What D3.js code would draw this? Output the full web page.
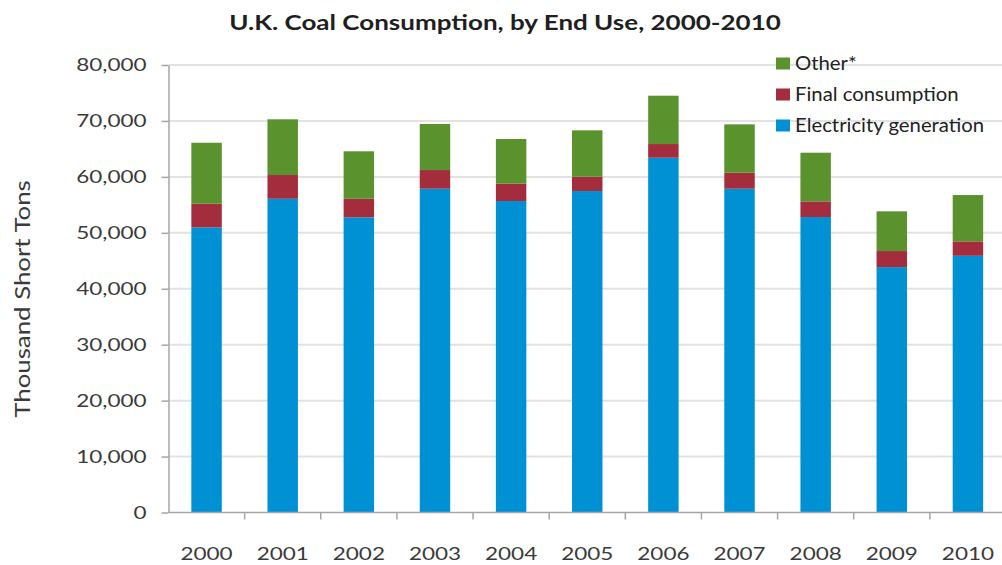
<!DOCTYPE html>
<html><head><meta charset="utf-8">
<script src="https://cdn.jsdelivr.net/npm/d3@7/dist/d3.min.js"></script>
<style>body{margin:0;background:#fff}svg{display:block}text{font-family:Lato,"Open Sans",sans-serif}</style>
</head><body><svg id="c" width="1002" height="565"></svg>
<script>
const years = ["2000","2001","2002","2003","2004","2005","2006","2007","2008","2009","2010"];
const electricity = [50970,56090,52760,57880,55680,57470,63420,57880,52820,43870,45890];
const finalCons = [4230,4240,3330,3340,3100,2560,2450,2860,2800,2870,2580];
const other = [10900,9960,8480,8230,7990,8290,8640,8650,8700,7100,8280];
const seriesNames = ["Electricity generation","Final consumption","Other*"];
const seriesColors = ["#0091d5","#a32d3d","#5a922e"];
const yTicks = [0,10000,20000,30000,40000,50000,60000,70000,80000];
const title = "U.K. Coal Consumption, by End Use, 2000-2010";
const yTitle = "Thousand Short Tons";

const SX = 1.25; // horizontal text stretch
const svg = d3.select("#c");
const x0 = 168.5, x1 = 1006, yBase = 512.5, yTop = 65;
const x = d3.scaleBand().domain(years).range([x0, x1]).paddingInner(0.6).paddingOuter(0.3);
const y = d3.scaleLinear().domain([0, 80000]).range([yBase, yTop]);

const rows = years.map((yr, i) => ({year: yr, e: electricity[i], f: finalCons[i], o: other[i]}));
const stack = d3.stack().keys(["e","f","o"])(rows);

// gridlines
svg.append("g").selectAll("line").data(yTicks.slice(1)).join("line")
  .attr("x1", x0).attr("x2", 1002).attr("y1", d => y(d)).attr("y2", d => y(d))
  .attr("stroke", "#e2e2e2").attr("stroke-width", 2);

// bars
svg.append("g").selectAll("g").data(stack).join("g")
  .attr("fill", (d, i) => seriesColors[i])
  .selectAll("rect").data(d => d).join("rect")
  .attr("x", d => x(d.data.year)).attr("width", x.bandwidth())
  .attr("y", d => y(d[1])).attr("height", d => y(d[0]) - y(d[1]));

// y axis
const ya = svg.append("g").attr("transform", `translate(${x0},0)`)
  .call(d3.axisLeft(y).tickValues(yTicks).tickFormat(d3.format(",")).tickSizeInner(7).tickSizeOuter(0).tickPadding(10));
ya.select(".domain").attr("stroke", "#a6a6a6").attr("stroke-width", 1.5);
ya.selectAll(".tick line").attr("stroke", "#a6a6a6").attr("stroke-width", 1.5);
ya.selectAll(".tick text").attr("font-size", 18).attr("fill", "#3a3a3a")
  .attr("x", -22/SX).attr("transform", `scale(${SX},1)`);

// x axis
const xa = svg.append("g").attr("transform", `translate(0,${yBase})`);
xa.append("line").attr("x1", x0).attr("x2", 1002).attr("stroke", "#a6a6a6").attr("stroke-width", 1.5);
const step = x.step();
xa.selectAll("line.tk").data(years.slice(1)).join("line").attr("class","tk")
  .attr("x1", d => x(d) - step * 0.3).attr("x2", d => x(d) - step * 0.3)
  .attr("y1", 0).attr("y2", 7).attr("stroke", "#a6a6a6").attr("stroke-width", 1.5);
xa.selectAll("g.lb").data(years).join("g").attr("class","lb")
  .attr("transform", d => `translate(${x(d) + x.bandwidth()/2},47) scale(${SX},1)`)
  .append("text").attr("text-anchor","middle").attr("font-size",18).attr("fill","#3a3a3a").text(d => d);

// title
svg.append("g").attr("transform", `translate(505,30) scale(1.3,1)`)
  .append("text").attr("text-anchor","middle").attr("font-size",20).attr("font-weight","bold")
  .attr("fill","#1f1f1f").text(title);

// y title
svg.append("g").attr("transform", "translate(30,299) rotate(-90)")
  .append("text").attr("text-anchor","middle").attr("font-size",21).attr("fill","#3a3a3a")
  .attr("transform", `scale(1.23,1)`).text(yTitle);

// legend
const leg = svg.append("g").selectAll("g").data([2,1,0]).join("g")
  .attr("transform", (d, i) => `translate(776,${63.5 + i*31})`);
leg.append("rect").attr("x", 0).attr("y", -6).attr("width", 14).attr("height", 12)
  .attr("fill", d => seriesColors[d]);
leg.append("g").attr("transform", `translate(19,6.5) scale(1.07,1)`)
  .append("text").attr("font-size",19).attr("fill","#222").text(d => seriesNames[d]);
</script></body></html>
